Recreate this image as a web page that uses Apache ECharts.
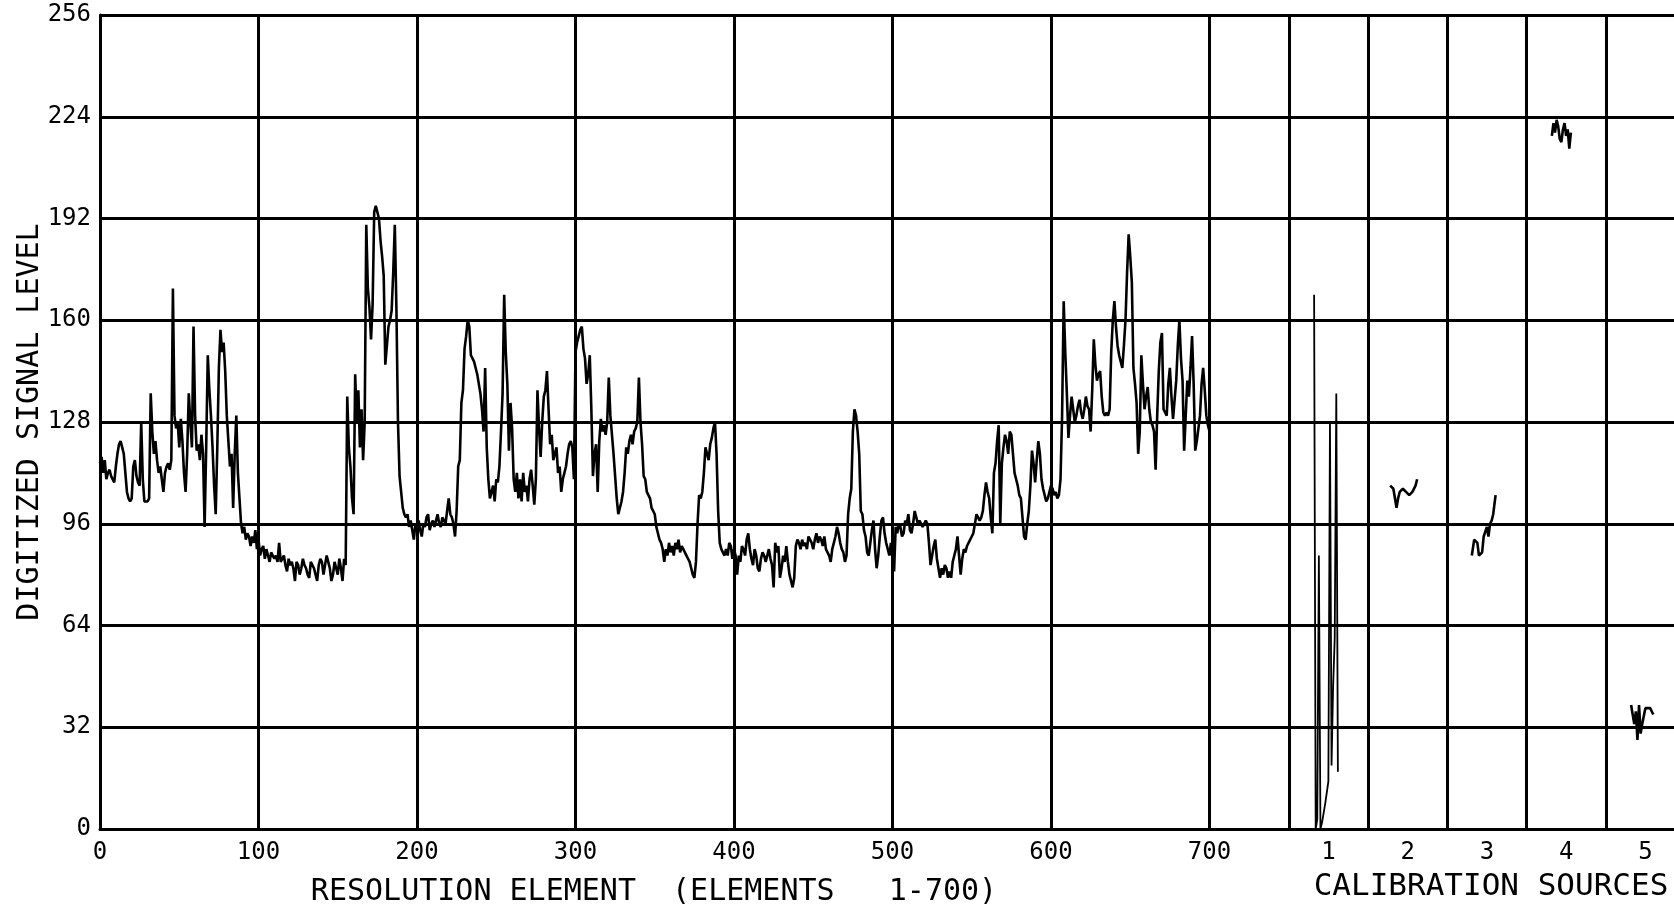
<!DOCTYPE html>
<html><head><meta charset="utf-8">
<script src="https://cdn.jsdelivr.net/npm/echarts@6/dist/echarts.min.js"></script>
<style>html,body{margin:0;padding:0;background:#fff}#chart{width:1674px;height:909px}</style>
</head><body><div id="chart"></div>
<script>
// Digitized signal level for resolution elements 0..700 (index = element number)
const signal = [
115,117,112,116,110,112,113,111,111,109,114,118,121,122,120,118,112,106,104,103,
104,114,116,111,109,108,128,110,103,103,103,104,137,125,118,122,116,112,114,110,
106,112,114,115,113,116,170,130,126,128,120,129,122,112,106,118,137,128,120,158,
130,119,121,116,124,118,95,120,149,138,130,120,108,99,120,145,157,150,153,144,
130,122,114,118,101,118,130,112,104,96,93,95,91,93,92,89,92,90,94,88,
91,86,88,89,85,88,86,84,87,86,85,86,84,90,84,85,86,83,81,85,
83,84,82,78,84,83,80,82,85,83,82,80,79,84,83,82,80,78,83,85,
84,80,83,86,84,82,78,80,84,82,80,85,82,78,85,83,136,120,114,104,
99,143,128,138,120,132,116,128,190,170,164,154,165,194,196,194,192,185,180,174,
146,152,158,160,163,175,190,164,128,111,106,101,99,98,99,95,97,94,91,96,
95,97,94,92,96,95,98,99,94,96,97,95,97,99,96,95,98,97,96,100,
104,99,98,96,92,100,114,116,134,138,151,155,160,158,149,148,147,145,143,140,
137,132,125,145,120,110,104,106,108,103,110,109,114,125,137,168,150,140,119,134,
126,110,106,112,104,110,103,112,106,108,103,110,113,108,102,110,138,126,117,128,
136,138,144,132,121,124,116,118,120,112,114,106,110,112,114,118,121,122,120,110,
150,153,155,157,158,151,148,140,143,149,132,111,118,121,106,122,129,125,127,124,
128,142,130,124,118,111,104,99,99,103,106,112,120,118,122,124,121,125,126,128,
142,128,121,111,110,106,105,104,101,100,99,95,93,91,90,88,84,88,86,90,
87,89,86,90,88,91,87,89,88,87,86,85,84,82,80,79,84,96,105,104,
106,112,120,118,116,121,123,126,128,118,100,90,88,87,86,88,86,90,89,85,
88,86,80,86,84,89,88,86,91,93,88,85,83,88,86,82,81,85,87,86,
84,86,88,85,83,76,90,87,89,79,82,86,84,89,84,80,78,76,79,89,
91,90,88,91,89,90,88,92,91,90,88,91,93,90,92,91,89,92,88,87,
86,84,88,90,92,95,93,90,88,87,84,86,99,104,107,125,132,130,125,118,
100,99,94,92,87,86,90,94,97,88,82,86,92,97,98,93,90,88,86,90,
85,81,95,93,96,95,92,93,97,96,99,94,93,96,100,98,96,97,97,95,
96,97,96,90,83,86,89,91,85,82,79,82,80,83,82,79,81,79,84,86,
88,92,86,80,85,88,87,89,90,91,92,93,96,99,98,97,98,100,105,109,
106,104,98,93,112,115,122,127,96,115,120,124,122,118,125,124,118,112,110,108,
105,104,98,92,91,96,100,108,119,115,109,116,122,118,110,107,105,103,104,106,
108,107,105,106,104,105,110,130,166,150,137,123,130,136,132,128,130,133,135,131,
129,132,136,133,132,125,138,154,146,141,143,144,136,131,130,131,130,132,150,160,
166,158,152,149,147,145,152,160,175,187,180,172,145,140,134,118,125,149,140,132,
136,139,132,128,127,125,113,130,144,153,156,132,131,130,140,145,136,129,135,141,
152,160,148,141,119,130,141,136,145,155,140,119,122,126,130,140,145,138,130,127,125
];

// Calibration source traces: [position, level]
const calib1 = [[766,168],[767,0],[768,3],[769,86],[770,0],[771,2],[773,8],[775,15],[776,128],[777,20],[778,45],[779,60],[780,137],[781,18]];
const calib2 = [[814,108],[816,107],[817,104],[818,101],[819,104],[820,106],[822,107],[824,106],[826,105],[828,106],[830,108],[831,110]];
const calib3 = [[865.5,86],[867,91],[869,90],[870,86],[872,87],[873,92],[875,95],[876,92],[877,96],[878,97],[879,99],[880.5,105]];
const calib4 = [[916,218],[917,222],[918,219],[919,223],[920,221],[921,217],[922,216],[923,220],[924,222],[925,218],[926,220],[927,214],[928,219]];
const calib5 = [[966,39],[968,33],[969,37],[970,28],[971,39],[972,30],[973,33],[975,38],[978,38],[980,36]];

const elementTicks = [0,100,200,300,400,500,600,700];
const calibCenters = [775,825,875,925,975];
const calibLabels = ['1','2','3','4','5'];
const gridColumns = [0,100,200,300,400,500,600,700,750,800,850,900,950];

const FONT = 'DejaVu Sans Mono';
const chart = echarts.init(document.getElementById('chart'));

function traceSeries(data, extra) {
  return Object.assign({
    type: 'line', data: data, showSymbol: false, symbol: 'none',
    lineStyle: { color: '#000', width: 2.6 }, animation: false, silent: true, z: 3
  }, extra || {});
}

chart.setOption({
  backgroundColor: '#fff',
  animation: false,
  grid: { left: 100, right: -11, top: 15, bottom: 80, outerBoundsMode: 'none', containLabel: false },
  xAxis: {
    type: 'value', min: 0, max: 1000, interval: 25,
    axisLine: { show: true, onZero: false, lineStyle: { color: '#000', width: 3 } },
    axisTick: { show: false },
    splitLine: { show: false },
    axisLabel: {
      color: '#000', fontFamily: FONT, fontSize: 24, margin: 12,
      formatter: function (v) {
        if (elementTicks.indexOf(v) >= 0) return String(v);
        const i = calibCenters.indexOf(v);
        return i >= 0 ? calibLabels[i] : '';
      }
    }
  },
  yAxis: {
    type: 'value', min: 0, max: 256, interval: 32,
    name: 'DIGITIZED SIGNAL LEVEL', nameLocation: 'middle', nameGap: 55, nameRotate: 90,
    nameMoveOverlap: false,
    nameTextStyle: { color: '#000', fontFamily: FONT, fontSize: 30 },
    axisLine: { show: true, lineStyle: { color: '#000', width: 3 } },
    axisTick: { show: false },
    axisLabel: { color: '#000', fontFamily: FONT, fontSize: 24, margin: 9 },
    splitLine: { show: true, lineStyle: { color: '#000', width: 3 } }
  },
  graphic: [
    { type: 'text', x: 654, y: 892, silent: true,
      style: { text: 'RESOLUTION ELEMENT  (ELEMENTS   1-700)', fill: '#000', fontFamily: FONT, fontSize: 30, align: 'center', verticalAlign: 'middle' } },
    { type: 'text', x: 1491, y: 887, silent: true,
      style: { text: 'CALIBRATION SOURCES', fill: '#000', fontFamily: FONT, fontSize: 31, align: 'center', verticalAlign: 'middle' } }
  ],
  series: [
    traceSeries(signal.map(function (v, i) { return [i, v]; }), {
      markLine: {
        silent: true, symbol: ['none', 'none'], label: { show: false }, animation: false,
        lineStyle: { color: '#000', width: 3, type: 'solid' },
        data: gridColumns.map(function (x) { return { xAxis: x }; })
      }
    }),
    traceSeries(calib1, { lineStyle: { color: '#000', width: 1.8 } }),
    traceSeries(calib2),
    traceSeries(calib3),
    traceSeries(calib4),
    traceSeries(calib5)
  ]
});
</script>
</body></html>
